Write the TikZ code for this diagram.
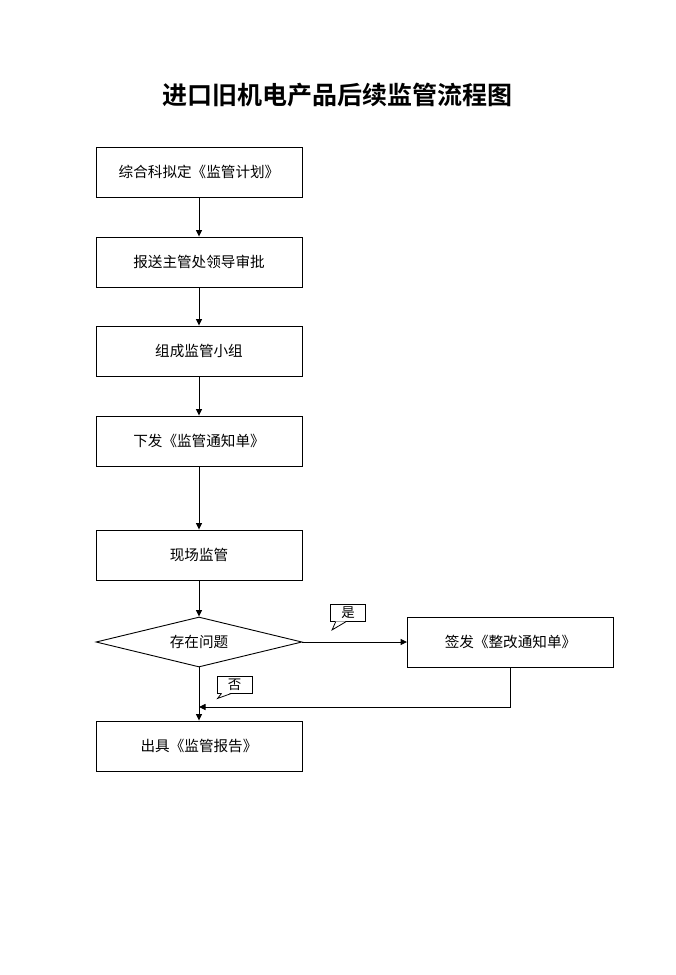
\documentclass[tikz,border=0pt]{standalone}
\usepackage{fontspec}
\setmainfont{Noto Sans CJK SC}
\newfontfamily\titlefont{Noto Sans CJK SC Bold}
\usetikzlibrary{arrows.meta,shapes.geometric,calc}
\begin{document}
\begin{tikzpicture}[x=1pt,y=-1pt,
  box/.style={draw,line width=0.9pt,minimum width=206pt,minimum height=50pt,inner sep=0pt,font=\fontsize{14.6}{16}\selectfont},
  dia/.style={draw,line width=0.9pt,diamond,minimum width=206pt,minimum height=50pt,inner sep=0pt},
  arr/.style={line width=0.9pt,-{Triangle[length=6.5pt,width=6pt]}},
  line/.style={line width=0.9pt},
  callout/.style={draw,line width=0.8pt,fill=white,minimum width=35pt,minimum height=17pt,inner sep=0pt,font=\fontsize{13.5}{15}\selectfont}]
\useasboundingbox (0,0) rectangle (675,975);
\node[font=\titlefont\fontsize{25}{28}\selectfont] (title) at (337,95) {进口旧机电产品后续监管流程图};
\node[box] (b1) at (199,172) {综合科拟定《监管计划》};
\node[box] (b2) at (199,262) {报送主管处领导审批};
\node[box] (b3) at (199,351) {组成监管小组};
\node[box] (b4) at (199,441) {下发《监管通知单》};
\node[box] (b5) at (199,555) {现场监管};
\node[dia,label={[font=\fontsize{14.6}{16}\selectfont]center:存在问题}] (d) at (199,642) {};
\node[box] (rb) at (510.5,642) {签发《整改通知单》};
\node[box] (b6) at (199,746) {出具《监管报告》};
\coordinate (m) at (199,707);
\draw[arr] (b1) -- (b2);
\draw[arr] (b2) -- (b3);
\draw[arr] (b3) -- (b4);
\draw[arr] (b4) -- (b5);
\draw[arr] (b5) -- (d);
\draw[arr] (d.east) -- (rb.west);
\draw[arr] (d.south) -- (b6.north);
\draw[arr] (rb.south) |- (m);
% callouts
\node[callout] (yes) at (348,613) {是};
\fill[white] ($(yes.south west)+(5.5,-0.6)$) -- ++(-3.5,8) -- ($(yes.south west)+(15.5,-0.6)$) -- cycle;
\draw[line width=0.8pt] ($(yes.south west)+(5.5,0)$) -- ++(-3.5,8) -- ($(yes.south west)+(15.5,0)$);
\node[callout] (no) at (234.5,684.5) {否};
\fill[white] ($(no.south west)+(5,-0.6)$) -- ++(-4,5) -- ($(no.south west)+(15,-0.6)$) -- cycle;
\draw[line width=0.8pt] ($(no.south west)+(5,0)$) -- ++(-4,5) -- ($(no.south west)+(15,0)$);
\end{tikzpicture}
\end{document}
